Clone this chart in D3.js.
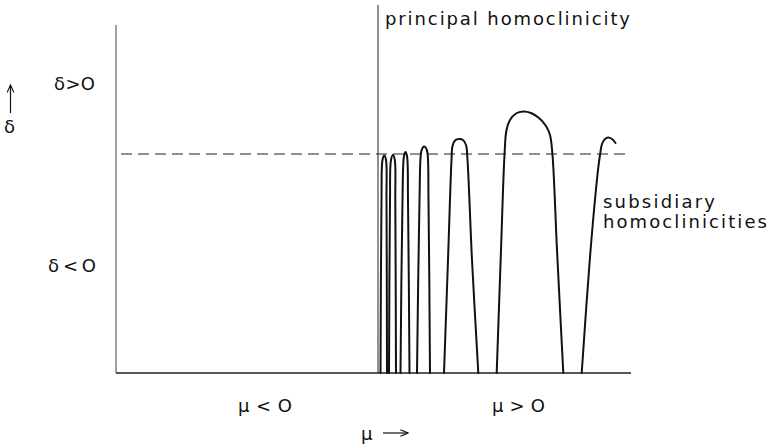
<!DOCTYPE html>
<html>
<head>
<meta charset="utf-8">
<script src="https://cdn.jsdelivr.net/npm/d3@7"></script>
<style>
  html, body { margin: 0; padding: 0; background: #fff; }
  svg { display: block; }
  text { font-family: "DejaVu Sans", "Liberation Sans", sans-serif; fill: #111; }
</style>
</head>
<body>
<svg id="chart" width="772" height="445"></svg>
<script>
// ---- data (μ horizontal, δ vertical; δ = 0 is the principal level) ----
const muDomain = [-26.2, 25.3];
const deltaDomain = [-21.9, 12.9];
const principalMu = 0;
const principalTop = 14.9;
const dashedStart = -25.7;
const dashedEnd = 25.0;

// subsidiary homoclinicity curves as [μ, δ]
const arch1 = [[0.25,-21.9],[0.35,-4.6],[0.45,-0.6],[0.63,-0.15],[0.8,-0.6],[0.85,-4.6],[0.9,-21.9]];
const arch2 = [[1.1,-21.9],[1.2,-4.6],[1.3,-0.6],[1.5,-0.1],[1.68,-0.6],[1.73,-4.6],[1.8,-21.9]];
const arch3 = [[2.25,-21.9],[2.45,-4.6],[2.6,-0.2],[2.75,0.2],[2.9,-0.2],[3.0,-4.6],[3.15,-21.9]];
const arch4 = [[3.9,-21.9],[4.15,-4.6],[4.3,0.1],[4.45,0.6],[4.6,0.75],[4.8,0.6],[4.95,0.1],[5.05,-4.6],[5.2,-21.9]];
const arch5 = [[6.6,-21.9],[7.0,-10.6],[7.35,-0.6],[7.45,0.8],[7.7,1.35],[8.1,1.5],[8.5,1.4],[8.8,0.9],[8.95,-0.6],[9.4,-10.6],[10.03,-21.9]];
const arch6 = [[11.87,-21.9],[12.3,-9.6],[12.65,-0.1],[12.85,2.4],[13.2,3.4],[13.8,4.05],[14.5,4.25],[15.3,4.1],[16.1,3.6],[16.8,2.8],[17.2,1.9],[17.45,-0.1],[17.9,-9.6],[18.53,-21.9]];
const arch7 = [[20.37,-21.9],[21.2,-10.3],[22.0,-1.6],[22.2,-0.1],[22.4,1.0],[22.7,1.5],[23.03,1.65],[23.4,1.5],[23.75,1.1]];
const arches = [arch1, arch2, arch3, arch4, arch5, arch6, arch7];

const svg = d3.select("#chart");
const x = d3.scaleLinear().domain(muDomain).range([116, 631]);
const y = d3.scaleLinear().domain(deltaDomain).range([373, 25]);

// axes frame
svg.append("line")
  .attr("x1", x(muDomain[0])).attr("x2", x(muDomain[0]))
  .attr("y1", y(deltaDomain[1])).attr("y2", y(deltaDomain[0]))
  .attr("stroke", "#444").attr("stroke-width", 1);
svg.append("line")
  .attr("x1", x(muDomain[0])).attr("x2", x(muDomain[1]))
  .attr("y1", y(deltaDomain[0])).attr("y2", y(deltaDomain[0]))
  .attr("stroke", "#222").attr("stroke-width", 1.3);

// principal homoclinicity line
svg.append("line")
  .attr("x1", x(principalMu)).attr("x2", x(principalMu))
  .attr("y1", y(principalTop)).attr("y2", y(deltaDomain[0]))
  .attr("stroke", "#222").attr("stroke-width", 1);

// dashed δ = 0 line
svg.append("line")
  .attr("x1", x(dashedStart)).attr("x2", x(dashedEnd))
  .attr("y1", y(0)).attr("y2", y(0))
  .attr("stroke", "#222").attr("stroke-width", 1.1)
  .attr("stroke-dasharray", "11,6");

// arches
const line = d3.line().x(d => x(d[0])).y(d => y(d[1])).curve(d3.curveCatmullRom.alpha(0.5));
svg.append("g").selectAll("path").data(arches).join("path")
  .attr("d", line)
  .attr("fill", "none").attr("stroke", "#111").attr("stroke-width", 2)
  .attr("stroke-linejoin", "round").attr("stroke-linecap", "round");

// labels
function label(txt, tx, ty, len, size) {
  svg.append("text").attr("x", tx).attr("y", ty)
    .attr("font-size", size || 19)
    .attr("textLength", len).attr("lengthAdjust", "spacing")
    .text(txt);
}
label("principal homoclinicity", 385, 25, 245, 18);
label("subsidiary", 603, 208, 112, 18);
label("homoclinicities", 603, 228, 164, 18);
label("δ>O", 54, 90, 41, 18);
label("δ<O", 48, 272, 48, 18);
label("μ<O", 238, 412, 54, 18);
label("μ>O", 492, 412, 53, 18);
label("μ", 361, 440, 12, 18);
label("δ", 4, 133, 12, 18);

// arrows
const defs = svg.append("defs");
defs.append("marker").attr("id", "ah").attr("viewBox", "0 0 10 10")
  .attr("refX", 9).attr("refY", 5).attr("markerWidth", 7).attr("markerHeight", 7)
  .attr("orient", "auto")
  .append("path").attr("d", "M0,1 L9,5 L0,9").attr("fill", "none").attr("stroke", "#111").attr("stroke-width", 1.3);
svg.append("line").attr("x1", 383).attr("x2", 408).attr("y1", 433).attr("y2", 433)
  .attr("stroke", "#111").attr("stroke-width", 1.2).attr("marker-end", "url(#ah)");
svg.append("line").attr("x1", 10.5).attr("x2", 10.5).attr("y1", 113).attr("y2", 85)
  .attr("stroke", "#111").attr("stroke-width", 1.2).attr("marker-end", "url(#ah)");
</script>
</body>
</html>
